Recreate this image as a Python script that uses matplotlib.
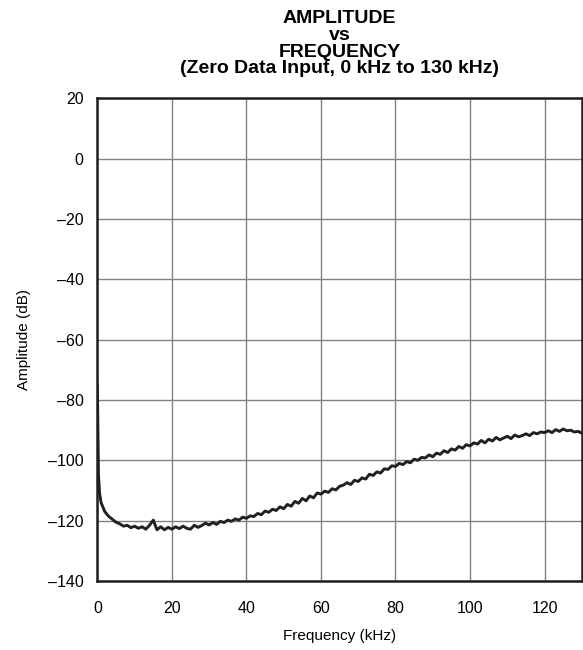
import matplotlib.pyplot as plt
import numpy as np

plt.rcParams['font.family'] = ['Liberation Sans', 'DejaVu Sans']

# Spectre (kHz, dB)
freq_khz = [0, 0.3, 0.6] + list(range(1, 131))
amplitude_db = [
    -75, -105, -111,
    -114, -117, -118.5, -119.5, -120.5, -121, -121.8, -121.5, -122.3, -121.8,
    -122.5, -122, -122.8, -121.5, -119.8, -123, -122, -123, -122.2, -122.8,
    -122, -122.6, -121.8, -122.5, -122.8, -121.5, -122.2, -121.6, -120.8, -121.4,
    -120.6, -121.2, -120.2, -120.6, -119.8, -120.2, -119.4, -119.8, -118.8, -119.2,
    -118.4, -118.6, -117.6, -118, -116.8, -117.2, -116.2, -116.6, -115.4, -116,
    -114.6, -115.2, -113.6, -114.2, -112.6, -113.4, -111.8, -112.4, -110.8, -111.2,
    -110.2, -110.6, -109.4, -109.8, -108.6, -108.2, -107.4, -108, -106.6, -107,
    -105.8, -106.2, -104.6, -105, -103.8, -104.2, -102.8, -103, -101.8, -102,
    -101, -101.4, -100.4, -100.8, -99.6, -100, -99, -99.2, -98.2, -98.8,
    -97.6, -98, -96.8, -97.4, -96.2, -96.6, -95.4, -96, -94.8, -95.2,
    -94.2, -94.6, -93.4, -94.2, -93, -93.6, -92.4, -93.2, -92.6, -92,
    -92.8, -91.6, -92.2, -91.8, -91.2, -91.8, -90.8, -91.2, -90.6, -90.8,
    -90.2, -90.8, -89.8, -90.4, -89.6, -90.2, -90, -90.6, -90.4, -91,
]

x_ticks = [0, 20, 40, 60, 80, 100, 120]
y_ticks = [20, 0, -20, -40, -60, -80, -100, -120, -140]
y_tick_labels = ['20', '0', '–20', '–40', '–60', '–80', '–100', '–120', '–140']

fig = plt.figure(figsize=(5.83, 6.5), dpi=100)
ax = fig.add_axes([0.167, 0.106, 0.831, 0.743])

ax.plot(freq_khz, amplitude_db, color='#231f20', linewidth=2.1)

ax.set_xlim(0, 130)
ax.set_ylim(-140, 20)
ax.set_xticks(x_ticks)
ax.set_xticklabels([str(v) for v in x_ticks])
ax.set_yticks(y_ticks)
ax.set_yticklabels(y_tick_labels)
ax.tick_params(length=0, labelsize=11.5)
ax.tick_params(axis='x', pad=14)
ax.tick_params(axis='y', pad=10)

ax.grid(True, color='#808080', linewidth=1.0)
ax.set_axisbelow(True)
for s in ax.spines.values():
    s.set_linewidth(1.8)
    s.set_color('#231f20')

ax.set_xlabel('Frequency (kHz)', fontsize=11, labelpad=10)
ax.set_ylabel('Amplitude (dB)', fontsize=11, labelpad=12)
ax.set_title('AMPLITUDE\nvs\nFREQUENCY\n(Zero Data Input, 0 kHz to 130 kHz)',
             fontsize=14, fontweight='bold', linespacing=0.97, pad=18)

plt.savefig('out.png', dpi=100)
